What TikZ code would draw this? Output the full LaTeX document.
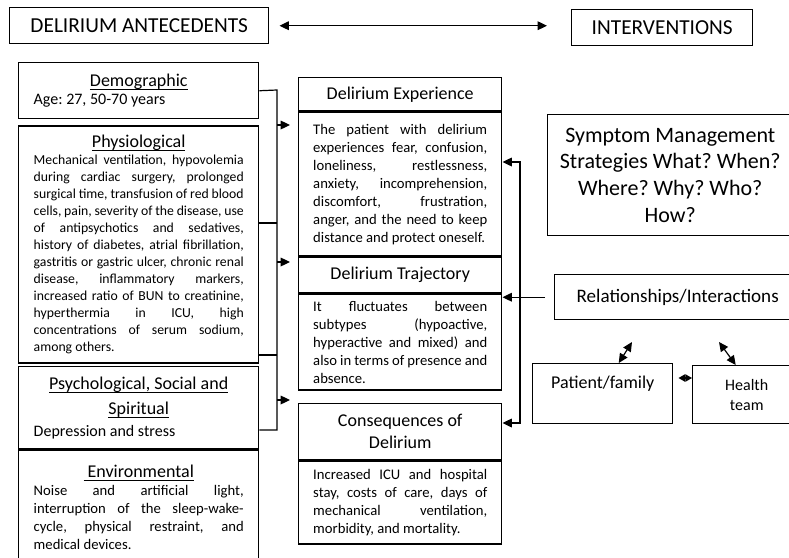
\documentclass[tikz,border=0pt]{standalone}
\usepackage{fontspec}
\setmainfont{Carlito}
\usetikzlibrary{arrows.meta, positioning}

\newcommand{\titlesize}{\fontsize{13.5}{17}\selectfont}
\newcommand{\bodysize}{\fontsize{11}{13.5}\selectfont}
\newcommand{\headline}[1]{\leavevmode\setbox0=\hbox{#1}\rlap{\rule[-2.6pt]{\wd0}{0.7pt}}\box0}
\frenchspacing

\begin{document}
\begin{tikzpicture}[
    x=0.75pt, y=-0.75pt,
    box/.style={rectangle, draw, line width=1.1pt, inner sep=0pt},
    headbox/.style={box, minimum height=27pt, font=\fontsize{16}{19}\selectfont},
    antbox/.style={box, text width=157.5pt, inner xsep=11.25pt, align=justify, font=\bodysize},
    midtitle/.style={box, minimum width=152.25pt, align=center, font=\titlesize},
    midbody/.style={box, text width=130.5pt, inner xsep=10.875pt, align=justify, font=\bodysize},
    intbox/.style={box, align=center},
    link/.style={line width=0.9pt},
    arr/.style={link, -{Triangle[length=7pt, width=6.5pt]}},
    dblarr/.style={link, {Triangle[length=7pt, width=6.5pt]}-{Triangle[length=7pt, width=6.5pt]}}
]
\useasboundingbox (0,0) rectangle (789,557);

% Header row
\node[headbox, minimum width=194.25pt, anchor=north west] (ante) at (9,7) {DELIRIUM ANTECEDENTS};
\node[headbox, minimum width=135.75pt, anchor=north west] (interv) at (571,9) {INTERVENTIONS};

% Antecedents column
\node[antbox, minimum height=42pt, anchor=north west] (demo) at (18,62)
  {{\titlesize\centering\headline{Demographic}\par}{\fontsize{12}{13.5}\selectfont Age: 27, 50-70 years\par}};
\node[antbox, minimum height=177.75pt, font=\fontsize{10.3}{12.75}\selectfont, below=4.5pt of demo] (physio)
  {{\fontsize{13.5}{16}\selectfont\centering\headline{Physiological}\par}
   Mechanical ventilation, hypovolemia\linebreak during cardiac surgery, prolonged\linebreak
   surgical time, transfusion of red blood\linebreak cells, pain, severity of the disease, use\linebreak
   of antipsychotics and sedatives,\linebreak history of diabetes, atrial fibrillation,\linebreak
   gastritis or gastric ulcer, chronic renal\linebreak disease, inflammatory markers,\linebreak
   increased ratio of BUN to creatinine,\linebreak hyperthermia in ICU, high\linebreak
   concentrations of serum sodium,\linebreak among others.};
\node[antbox, minimum height=61.5pt, below=1.5pt of physio] (psych)
  {{\fontsize{13.5}{18.75}\selectfont\centering\headline{Psychological, Social and}\\\headline{Spiritual}\par}
   {\fontsize{12}{16.5}\selectfont Depression and stress\par}};
\node[antbox, minimum height=86.25pt, below=0pt of psych] (envir)
  {{\titlesize\centering\headline{\ Environmental}\par}
   Noise and artificial light,\linebreak interruption of the sleep-wake-\linebreak
   cycle, physical restraint, and\linebreak medical devices.};

% Delirium column
\node[midtitle, minimum height=24.75pt, anchor=north west] (exptitle) at (298,77) {Delirium Experience};
\node[midbody, minimum height=108pt, below=0pt of exptitle] (expbody)
  {The patient with delirium\linebreak experiences fear, confusion,\linebreak
   loneliness, restlessness,\linebreak anxiety, incomprehension,\linebreak
   discomfort, frustration,\linebreak anger, and the need to keep\linebreak
   distance and protect oneself.};
\node[midtitle, minimum height=26.25pt, below=0pt of expbody] (trajtitle) {Delirium Trajectory};
\node[midbody, minimum height=72pt, below=0pt of trajtitle] (trajbody)
  {It fluctuates between\linebreak subtypes (hypoactive,\linebreak
   hyperactive and mixed) and\linebreak also in terms of presence and\linebreak absence.};
\node[midtitle, minimum height=42pt, font=\fontsize{13.5}{16.5}\selectfont, below=9pt of trajbody] (constitle)
  {Consequences of\\Delirium};
\node[midbody, minimum height=62.25pt, below=0pt of constitle] (consbody)
  {Increased ICU and hospital\linebreak stay, costs of care, days of\linebreak
   mechanical ventilation,\linebreak morbidity, and mortality.};

% Interventions column
\node[intbox, minimum width=183.75pt, minimum height=90.75pt, font=\fontsize{16.5}{20}\selectfont, anchor=north west] (symptom) at (547,114)
  {Symptom Management\\Strategies What? When?\\Where? Why? Who?\\How?};
\node[intbox, minimum width=184.5pt, minimum height=33.75pt, font=\fontsize{14.3}{17}\selectfont, anchor=north west] (relat) at (554,274)
  {Relationships/Interactions};
\node[box, minimum width=105pt, text height=18.75pt, text depth=26.25pt, font=\fontsize{13.5}{16}\selectfont, anchor=north west] (patient) at (532,363)
  {Patient/family};
\node[intbox, minimum width=81pt, minimum height=43.5pt, font=\fontsize{12}{15}\selectfont, anchor=north west] (health) at (692,365)
  {Health\\team};

% Header link
\draw[dblarr, shorten <=7.5pt, shorten >=18pt] (ante.east) -- (ante.east -| interv.west);

% Antecedents -> Delirium
\coordinate (ltop) at (277,90);
\coordinate (lbot) at (277,430);
\coordinate (lphys1) at (277,223);
\coordinate (lphys2) at (277,355);
\draw[link] (demo.east) -- (ltop) -- (lbot) -- (lbot -| psych.east);
\draw[link] (lphys1 -| physio.east) -- (lphys1);
\draw[link] (lphys2 -| physio.east) -- (lphys2);
\foreach \y/\tgt in {125/expbody, 262/trajtitle, 400/constitle}{
  \coordinate (lfork) at (277,\y);
  \draw[arr, shorten >=6pt] (lfork) -- (lfork -| \tgt.west);
}

% Interventions -> Delirium
\coordinate (rtop) at (520,162);
\coordinate (rbot) at (520,423);
\draw[dblarr] (rtop -| expbody.east) -- (rtop) -- (rbot) -- (rbot -| constitle.east);
\draw[arr, shorten <=6.75pt] (relat.west) -- (relat.west -| trajbody.east);

% Relationships
\coordinate (pht) at (680,378);
\draw[link, {Triangle[length=5pt, width=5.5pt]}-{Triangle[length=5pt, width=5.5pt]}, shorten <=3.75pt]
  (patient.east |- pht) -- (health.west |- pht);
\coordinate (pfend) at (632,342);
\coordinate (htend) at (719,342);
\draw[dblarr] ([xshift=12pt]patient.north) -- (pfend);
\draw[dblarr] ([xshift=-8.25pt]health.north) -- (htend);
\end{tikzpicture}
\end{document}
